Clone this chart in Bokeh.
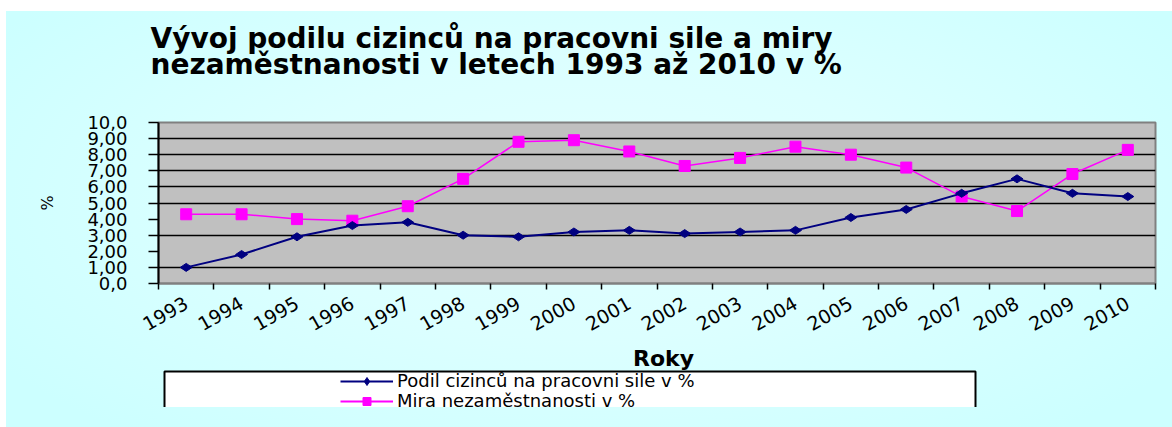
import math
from bokeh.plotting import figure
from bokeh.layouts import column
from bokeh.models import (Range1d, FixedTicker, Title, Legend, LegendItem, Label,
                          BoxAnnotation, Spacer)
from bokeh.embed import file_html
from bokeh.resources import INLINE

# ---- data ----
years = ["1993", "1994", "1995", "1996", "1997", "1998", "1999", "2000", "2001",
         "2002", "2003", "2004", "2005", "2006", "2007", "2008", "2009", "2010"]
foreign_share = [1.0, 1.8, 2.9, 3.6, 3.8, 3.0, 2.9, 3.2, 3.3,
                 3.1, 3.2, 3.3, 4.1, 4.6, 5.6, 6.5, 5.6, 5.4]
unemployment = [4.3, 4.3, 4.0, 3.9, 4.8, 6.5, 8.8, 8.9, 8.2,
                7.3, 7.8, 8.5, 8.0, 7.2, 5.4, 4.5, 6.8, 8.3]
y_ticks = [0, 1, 2, 3, 4, 5, 6, 7, 8, 9, 10]
y_tick_labels = ["0,0", "1,00", "2,00", "3,00", "4,00", "5,00",
                 "6,00", "7,00", "8,00", "9,00", "10,0"]
grid_values = [1, 3, 5, 6, 7, 8, 9]

title_lines = ["Vývoj podilu cizinců na pracovni sile a miry",
               "nezaměstnanosti v letech 1993 až 2010 v %"]
series_names = ["Podil cizinců na pracovni sile v %", "Mira nezaměstnanosti v %"]
x_title = "Roky"
y_title = "%"

FONT = "DejaVu Sans"
BG = "#CEFFFF"
BG_GRAD = ("radial-gradient(ellipse 60% 75% at 50% 45%, "
           "#E2FFFF 0%, #DCFFFF 45%, #CCFFFF 100%)")
BLUE = "#000080"
PINK = "#FF00FF"

xs = [i + 0.5 for i in range(len(years))]
boundaries = list(range(len(years) + 1))

# ---------------- main chart ----------------
p = figure(width=1166, height=333, output_backend="svg", toolbar_location=None,
           x_range=Range1d(0, len(years)), y_range=Range1d(0, 10),
           min_border_left=152, min_border_right=17, min_border_top=111,
           min_border_bottom=61)
p.background_fill_color = "#C0C0C0"
p.border_fill_color = BG
p.border_fill_alpha = 0
p.outline_line_color = "#808080"
p.outline_line_width = 2

xa = p.xaxis[0]
xa.ticker = FixedTicker(ticks=xs, minor_ticks=boundaries)
xa.major_label_overrides = {x: y for x, y in zip(xs, years)}
xa.major_tick_out = 0
xa.major_tick_in = 0
xa.minor_tick_out = 6
xa.minor_tick_in = 0
xa.minor_tick_line_color = "black"
xa.minor_tick_line_width = 1.5
xa.axis_line_color = "#808080"
xa.axis_line_width = 2
xa.major_label_orientation = 0.52
xa.major_label_text_font = FONT
xa.major_label_text_font_size = "19px"
xa.major_label_text_color = "black"
xa.major_label_standoff = 12

ya = p.yaxis[0]
ya.ticker = FixedTicker(ticks=y_ticks, minor_ticks=[])
ya.major_label_overrides = {v: t for v, t in zip(y_ticks, y_tick_labels)}
ya.major_tick_out = 10
ya.major_tick_in = 0
ya.major_tick_line_color = "black"
ya.major_tick_line_width = 1.5
ya.minor_tick_out = 0
ya.axis_line_color = "black"
ya.axis_line_width = 2
ya.major_label_text_font = FONT
ya.major_label_text_font_size = "18px"
ya.major_label_text_color = "black"
ya.major_label_standoff = 21
ya.axis_label = y_title
ya.axis_label_text_font = FONT
ya.axis_label_text_font_size = "16px"
ya.axis_label_text_font_style = "normal"
ya.axis_label_text_color = "black"
ya.axis_label_standoff = 27

p.xgrid.visible = False
p.ygrid.ticker = FixedTicker(ticks=grid_values)
p.ygrid.grid_line_color = "black"
p.ygrid.grid_line_width = 1.5

p.line(xs, unemployment, line_color=PINK, line_width=1.5)
p.scatter(xs, unemployment, marker="square", size=11, fill_color=PINK, line_color=PINK)
p.line(xs, foreign_share, line_color=BLUE, line_width=2)
p.scatter(xs, foreign_share, marker="diamond", size=12, angle=math.pi / 2,
          fill_color=BLUE, line_color=BLUE)

# title block: panels stack outward from the frame (blank spacer first)
p.add_layout(Title(text="\u00a0", align="left", standoff=17,
                   text_font="Liberation Sans", text_font_size="24px",
                   text_color=BG), "above")
p.add_layout(Title(text=title_lines[1], align="left", offset=-8, standoff=-9,
                   text_font=FONT, text_font_size="28px", text_font_style="bold",
                   text_color="black"), "above")
p.add_layout(Title(text=title_lines[0], align="left", offset=-8, standoff=-9,
                   text_font=FONT, text_font_size="28px", text_font_style="bold",
                   text_color="black"), "above")

# ---------------- lower band: axis title + legend box ----------------
lg = figure(width=1166, height=63, output_backend="svg", toolbar_location=None,
            x_range=Range1d(0, len(years)), y_range=Range1d(0, 10),
            x_axis_type=None, y_axis_type=None,
            min_border_left=152, min_border_right=17, min_border_top=0,
            min_border_bottom=0)
lg.background_fill_alpha = 0
lg.border_fill_alpha = 0
lg.outline_line_color = None
lg.xgrid.visible = False
lg.ygrid.visible = False

lg.add_layout(Label(x=505, y=49, x_units="screen", y_units="screen", text=x_title,
                    text_font=FONT, text_font_size="22px", text_font_style="bold",
                    text_color="black", text_align="center", text_baseline="middle"))

lg.add_layout(BoxAnnotation(left=6, right=817, top=36, bottom=-10,
                            left_units="screen", right_units="screen",
                            top_units="screen", bottom_units="screen",
                            fill_color="white", fill_alpha=1.0,
                            line_color="black", line_alpha=1.0, line_width=2))

lb_line = lg.line(xs, foreign_share, line_color=BLUE, line_width=2, visible=False)
lb_pts = lg.scatter(xs, foreign_share, marker="diamond", size=12, angle=math.pi / 2,
                    fill_color=BLUE, line_color=BLUE, visible=False)
lp_line = lg.line(xs, unemployment, line_color=PINK, line_width=2, visible=False)
lp_pts = lg.scatter(xs, unemployment, marker="square", size=11,
                    fill_color=PINK, line_color=PINK, visible=False)

legend_style = dict(orientation="vertical", padding=0, margin=0, spacing=0,
                    glyph_width=53, glyph_height=20, label_height=16, label_standoff=4,
                    label_text_font=FONT, label_text_font_size="18px",
                    label_text_color="black",
                    background_fill_alpha=0, border_line_color=None)
legend_a = Legend(items=[LegendItem(label=series_names[0], renderers=[lb_line, lb_pts])],
                  location=(182, 16), **legend_style)
legend_b = Legend(items=[LegendItem(label=series_names[1], renderers=[lp_line, lp_pts])],
                  location=(182, -4), **legend_style)
lg.add_layout(legend_a)
lg.add_layout(legend_b)

layout = column(p, lg, Spacer(width=1166, height=20), spacing=0, margin=(11, 0, 0, 6),
                styles={"background": BG_GRAD})
open("out.html", "w").write(file_html(layout, INLINE))
